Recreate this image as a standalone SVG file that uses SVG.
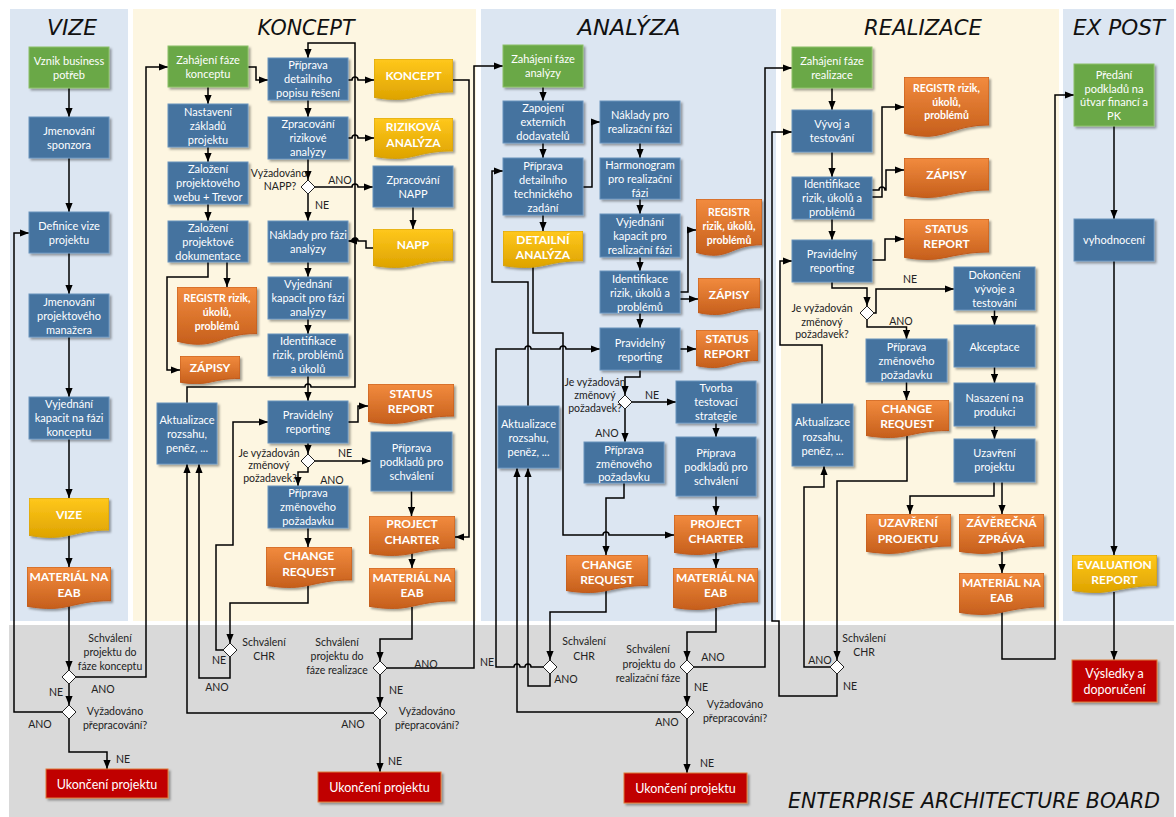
<svg xmlns="http://www.w3.org/2000/svg" width="1176" height="817" viewBox="0 0 1176 817">
<defs>
<style>
.lb{fill:#dce6f2}
.lc{fill:#fdf6e1}
.eab{fill:#d9d9d9}
.bx{fill:#44739f;stroke:#6a93bd;stroke-width:1}
.gr{fill:#6aa846;stroke:#8cc06a;stroke-width:1}
.rd{fill:#c00000;stroke:#dd7a3a;stroke-width:1}
.yd{fill:url(#gY);stroke:#d3a10c}
.od{fill:url(#gO);stroke:#bf5a1c}
.sh{filter:url(#sh)}
.t{font-family:Lato,"Open Sans","Liberation Sans",sans-serif;font-size:11px;fill:#fff;text-anchor:middle}
.tb{font-weight:bold;font-size:12px}
.ts{font-weight:bold;font-size:10.5px}
.tr{font-size:12.5px}
.l{font-family:Lato,"Open Sans","Liberation Sans",sans-serif;font-size:10.5px;fill:#222;text-anchor:middle}
.c path{fill:none;stroke:#000;stroke-width:1.5;marker-end:url(#ah)}
.dm{fill:#fff;stroke:#222;stroke-width:1}
.ttl{font-family:"DejaVu Sans",sans-serif;font-style:italic;font-size:22px;fill:#111;text-anchor:middle}
.ttl2{font-size:18.5px}
</style>
<linearGradient id="gY" x1="0" y1="0" x2="0" y2="1"><stop offset="0" stop-color="#ffc81c"/><stop offset="1" stop-color="#dea300"/></linearGradient>
<linearGradient id="gO" x1="0" y1="0" x2="0" y2="1"><stop offset="0" stop-color="#f28b3e"/><stop offset="1" stop-color="#c65f1c"/></linearGradient>
<filter id="sh" x="-10%" y="-10%" width="130%" height="130%"><feDropShadow dx="2" dy="2" stdDeviation="1.2" flood-color="#000" flood-opacity="0.35"/></filter>
<marker id="ah" viewBox="0 0 10 8" refX="10" refY="4" markerWidth="9" markerHeight="7.5" orient="auto" markerUnits="userSpaceOnUse"><path d="M0,0 L10,4 L0,8 Z" fill="#000"/></marker>
<!-- flowchart "document" shape with a wavy lower edge -->
<symbol id="doc" viewBox="0 0 100 100" preserveAspectRatio="none"><path d="M0,0 H100 V80.2 C50,80.2 50,110.75 0,93.4 Z" vector-effect="non-scaling-stroke"/></symbol>
</defs>

<!-- swimlanes -->
<g id="lanes">
<rect x="0" y="0" width="1176" height="817" fill="#fff"/>
<rect class="lb" x="10" y="9" width="118" height="612"/>
<rect class="lc" x="133" y="9" width="343" height="612"/>
<rect class="lb" x="481" y="9" width="295" height="612"/>
<rect class="lc" x="781" y="9" width="278" height="612"/>
<rect class="lb" x="1063" y="9" width="111" height="612"/>
<rect class="eab" x="9" y="625" width="1165" height="192"/>
</g>
<g id="titles">
<text class="ttl" x="72" y="35" textLength="50" lengthAdjust="spacingAndGlyphs">VIZE</text>
<text class="ttl" x="306" y="35" textLength="97" lengthAdjust="spacingAndGlyphs">KONCEPT</text>
<text class="ttl" x="629" y="35" textLength="103" lengthAdjust="spacingAndGlyphs">ANALÝZA</text>
<text class="ttl" x="923" y="35" textLength="118" lengthAdjust="spacingAndGlyphs">REALIZACE</text>
<text class="ttl" x="1119" y="35" textLength="92" lengthAdjust="spacingAndGlyphs">EX POST</text>
<text class="ttl ttl2" transform="translate(974,808) scale(1,1.15)" x="0" y="0" textLength="372" lengthAdjust="spacingAndGlyphs">ENTERPRISE ARCHITECTURE BOARD</text>
</g>

<!-- connectors -->
<g id="connectors" class="c">
<!-- vize -->
<path d="M69,88 V117"/>
<path d="M69,158 V212"/>
<path d="M69,253 V294"/>
<path d="M69,337 V397"/>
<path d="M69,439 V498"/>
<path d="M69,535 V567"/>
<path d="M69,606 V670"/>
<path d="M76,677 H146 V67 H168"/>
<path d="M69,684 V705"/>
<path d="M62,712 H14 V233 H29"/>
<path d="M69,719 V752 H107 V769"/>
<!-- koncept -->
<path d="M248,67 H256 V80 H268"/>
<path d="M208,87 V104"/>
<path d="M208,147 V162"/>
<path d="M208,204 V221"/>
<path d="M308,100 V117"/>
<path d="M348,80 H352 a3,3 0 0 1 6,0 H374"/>
<path d="M348,138 H352 a3,3 0 0 1 6,0 H374"/>
<path d="M308,159 V180"/>
<path d="M315,187 H352 a3,3 0 0 1 6,0 H373"/>
<path d="M308,194 V221"/>
<path d="M413,207 V229"/>
<path d="M373,248 H366 V241 H358 a3,3 0 0 0 -6,0 H348"/>
<path d="M308,262 V277"/>
<path d="M308,319 V334"/>
<path d="M208,262 V277 H167 V370 H180"/>
<path d="M227,262 V287"/>
<path d="M187,403 V387 H305 a3,3 0 0 1 6,0 H355 V43 H308 V58"/>
<path d="M308,376 V401"/>
<path d="M348,422 H358 V406 H368"/>
<path d="M308,443 V454"/>
<path d="M315,461 H371"/>
<path d="M308,468 V472 H298 V486"/>
<path d="M308,528 V547"/>
<path d="M411.5,491 V516"/>
<path d="M412,552 V568"/>
<path d="M453,80 H469 V537 H455"/>
<path d="M308,585 V603 H230 V643"/>
<path d="M230,657 V678 H199 V464"/>
<path d="M223,650 H216 V545 H233 V422 H268"/>
<path d="M373,713 H187 V464"/>
<path d="M412,607 V639 H380 V661"/>
<path d="M387,668 H474 V66 H503"/>
<path d="M380,675 V706"/>
<path d="M380,720 V772"/>
<!-- analyza -->
<path d="M543,87 V101"/>
<path d="M543,143 V158"/>
<path d="M543,215 V231"/>
<path d="M583,187 H592 V122 H600"/>
<path d="M640,143 V158"/>
<path d="M640,199 V214"/>
<path d="M640,257 V271"/>
<path d="M680,292 H688 V230 H696"/>
<path d="M680,299 H698"/>
<path d="M640,313 V328"/>
<path d="M680,349 H696"/>
<path d="M640,370 V377 H625 V395"/>
<path d="M632,402 H676"/>
<path d="M625,409 V442"/>
<path d="M716,423 V437"/>
<path d="M716,496 V515"/>
<path d="M716,552 V568"/>
<path d="M624,483 V498 H606 V555"/>
<path d="M533,266 V333 H563 V535 H603 a3,3 0 0 1 6,0 H674"/>
<path d="M528,406 V282 H492 V171 H503"/>
<path d="M543,667 H531 a3,3 0 0 0 -6,0 H520 a3,3 0 0 0 -6,0 H496 V349 H525 a3,3 0 0 1 6,0 H560 a3,3 0 0 1 6,0 H600"/>
<path d="M550,674 V686 H528 V468"/>
<path d="M680,712 H517 V468"/>
<path d="M606,590 V612 H550 V660"/>
<path d="M716,608 V632 H687 V660"/>
<path d="M694,667 H765 V68 H792"/>
<path d="M687,674 V705"/>
<path d="M687,719 V773"/>
<!-- realizace -->
<path d="M832,88 V110"/>
<path d="M832,152 V177"/>
<path d="M832,219 V240"/>
<path d="M872,197 H882 V107 H904"/>
<path d="M872,190 H879 a3,3 0 0 1 6,0 H886 V170 H904"/>
<path d="M872,260 H885 V239 H904"/>
<path d="M832,282 V288 H867 V306"/>
<path d="M874,313 H876 V289 H954"/>
<path d="M867,320 V327 H906.5 V339"/>
<path d="M994.5,310 V325"/>
<path d="M994.5,367 V383"/>
<path d="M994.5,426 V439"/>
<path d="M994,482 V496 H910 V514"/>
<path d="M1002,482 V514"/>
<path d="M1002,552 V573"/>
<path d="M906.5,382 V400"/>
<path d="M907,436 V481 H837 V660"/>
<path d="M830,667 H804 V487 H824 V466"/>
<path d="M837,674 V696 H779 V621 H772 V132 H792"/>
<path d="M822,404 V345 H780 V261 H792"/>
<path d="M1002,612 V659 H1055 V95 H1074"/>
<!-- ex post -->
<path d="M1114,126 V219"/>
<path d="M1114,261 V555"/>
<path d="M1114,592 V660"/>
</g>

<!-- VIZE -->
<g id="v-vznik"><rect class="gr sh" x="29" y="47" width="80" height="41"/><text class="t"><tspan x="69" y="64.5">Vznik business</tspan><tspan x="69" y="78.5">potřeb</tspan></text></g>
<g id="v-sponzor"><rect class="bx sh" x="29" y="117" width="80" height="41"/><text class="t"><tspan x="69" y="134.5">Jmenování</tspan><tspan x="69" y="148.5">sponzora</tspan></text></g>
<g id="v-definice"><rect class="bx sh" x="29" y="212" width="80" height="41"/><text class="t"><tspan x="69" y="229.5">Definice vize</tspan><tspan x="69" y="243.5">projektu</tspan></text></g>
<g id="v-manazer"><rect class="bx sh" x="29" y="294" width="80" height="43"/><text class="t"><tspan x="69" y="305.5">Jmenování</tspan><tspan x="69" y="319.5">projektového</tspan><tspan x="69" y="333.5">manažera</tspan></text></g>
<g id="v-kapacity"><rect class="bx sh" x="29" y="397" width="80" height="42"/><text class="t"><tspan x="69" y="408">Vyjednání</tspan><tspan x="69" y="422">kapacit na fázi</tspan><tspan x="69" y="436">konceptu</tspan></text></g>
<g id="v-doc-vize"><use href="#doc" class="yd sh" x="29" y="498" width="80" height="40"/><text class="t tb"><tspan x="69" y="518.5">VIZE</tspan></text></g>
<g id="v-material"><use href="#doc" class="od sh" x="27" y="567" width="84" height="42"/><text class="t tb"><tspan x="69" y="580.5">MATERIÁL NA</tspan><tspan x="69" y="596.5">EAB</tspan></text></g>
<g id="v-schvaleni"><polygon class="dm" points="69,670 76,677 69,684 62,677"/><text class="l"><tspan x="110" y="641.5">Schválení</tspan><tspan x="110" y="655.5">projektu do</tspan><tspan x="110" y="669.5">fáze konceptu</tspan></text></g>
<g id="v-prepracovani"><polygon class="dm" points="69,705 76,712 69,719 62,712"/><text class="l"><tspan x="115" y="715">Vyžadováno</tspan><tspan x="115" y="729">přepracování?</tspan></text></g>
<g id="v-ukonceni"><rect class="rd sh" x="46" y="769" width="122" height="29"/><text class="t tr"><tspan x="107" y="788.5">Ukončení projektu</tspan></text></g>

<!-- KONCEPT -->
<g id="k-zahajeni"><rect class="gr sh" x="168" y="46" width="80" height="41"/><text class="t"><tspan x="208" y="63.5">Zahájení fáze</tspan><tspan x="208" y="77.5">konceptu</tspan></text></g>
<g id="k-nastaveni"><rect class="bx sh" x="168" y="104" width="80" height="43"/><text class="t"><tspan x="208" y="115.5">Nastavení</tspan><tspan x="208" y="129.5">základů</tspan><tspan x="208" y="143.5">projektu</tspan></text></g>
<g id="k-web"><rect class="bx sh" x="168" y="162" width="80" height="42"/><text class="t"><tspan x="208" y="173">Založení</tspan><tspan x="208" y="187">projektového</tspan><tspan x="208" y="201">webu + Trevor</tspan></text></g>
<g id="k-dokumentace"><rect class="bx sh" x="168" y="221" width="80" height="41"/><text class="t"><tspan x="208" y="231.5">Založení</tspan><tspan x="208" y="245.5">projektové</tspan><tspan x="208" y="259.5">dokumentace</tspan></text></g>
<g id="k-priprava"><rect class="bx sh" x="268" y="58" width="80" height="42"/><text class="t"><tspan x="308" y="69">Příprava</tspan><tspan x="308" y="83">detailního</tspan><tspan x="308" y="97">popisu řešení</tspan></text></g>
<g id="k-rizikova"><rect class="bx sh" x="268" y="117" width="80" height="42"/><text class="t"><tspan x="308" y="128">Zpracování</tspan><tspan x="308" y="142">rizikové</tspan><tspan x="308" y="156">analýzy</tspan></text></g>
<g id="k-napp-q"><polygon class="dm" points="308,180 315,187 308,194 301,187"/><text class="l"><tspan x="279" y="177">Vyžadováno</tspan><tspan x="280" y="190">NAPP?</tspan></text></g>
<g id="k-napp"><rect class="bx sh" x="373" y="166" width="80" height="41"/><text class="t"><tspan x="413" y="183.5">Zpracování</tspan><tspan x="413" y="197.5">NAPP</tspan></text></g>
<g id="k-naklady"><rect class="bx sh" x="268" y="221" width="80" height="41"/><text class="t"><tspan x="308" y="238.5">Náklady pro fázi</tspan><tspan x="308" y="252.5">analýzy</tspan></text></g>
<g id="k-vyjednani"><rect class="bx sh" x="268" y="277" width="80" height="42"/><text class="t"><tspan x="308" y="288">Vyjednání</tspan><tspan x="308" y="302">kapacit pro fázi</tspan><tspan x="308" y="316">analýzy</tspan></text></g>
<g id="k-identifikace"><rect class="bx sh" x="268" y="334" width="80" height="42"/><text class="t"><tspan x="308" y="345">Identifikace</tspan><tspan x="308" y="359">rizik, problémů</tspan><tspan x="308" y="373">a úkolů</tspan></text></g>
<g id="k-aktualizace"><rect class="bx sh" x="157" y="403" width="60" height="61"/><text class="t"><tspan x="187" y="423.5">Aktualizace</tspan><tspan x="187" y="437.5">rozsahu,</tspan><tspan x="187" y="451.5">peněz, ...</tspan></text></g>
<g id="k-reporting"><rect class="bx sh" x="268" y="401" width="80" height="42"/><text class="t"><tspan x="308" y="419">Pravidelný</tspan><tspan x="308" y="433">reporting</tspan></text></g>
<g id="k-zmena-q"><polygon class="dm" points="308,454 315,461 308,468 301,461"/><text class="l"><tspan x="269" y="456.5">Je vyžadován</tspan><tspan x="269" y="469">změnový</tspan><tspan x="270" y="481.5">požadavek?</tspan></text></g>
<g id="k-podklady"><rect class="bx sh" x="371" y="432" width="81" height="59"/><text class="t"><tspan x="411.5" y="451.5">Příprava</tspan><tspan x="411.5" y="465.5">podkladů pro</tspan><tspan x="411.5" y="479.5">schválení</tspan></text></g>
<g id="k-zmenovy"><rect class="bx sh" x="268" y="486" width="80" height="42"/><text class="t"><tspan x="308" y="497">Příprava</tspan><tspan x="308" y="511">změnového</tspan><tspan x="308" y="525">požadavku</tspan></text></g>
<g id="k-doc-koncept"><use href="#doc" class="yd sh" x="374" y="59" width="79" height="41"/><text class="t tb"><tspan x="413.5" y="79.5">KONCEPT</tspan></text></g>
<g id="k-doc-rizikova"><use href="#doc" class="yd sh" x="374" y="118" width="79" height="41"/><text class="t tb"><tspan x="413.5" y="130.5">RIZIKOVÁ</tspan><tspan x="413.5" y="146.5">ANALÝZA</tspan></text></g>
<g id="k-doc-napp"><use href="#doc" class="yd sh" x="373" y="229" width="80" height="39"/><text class="t tb"><tspan x="413" y="248.5">NAPP</tspan></text></g>
<g id="k-doc-registr"><use href="#doc" class="od sh" x="177" y="287" width="80" height="58"/><text class="t ts"><tspan x="217" y="302">REGISTR rizik,</tspan><tspan x="217" y="316">úkolů,</tspan><tspan x="217" y="330">problémů</tspan></text></g>
<g id="k-doc-zapisy"><use href="#doc" class="od sh" x="180" y="356" width="60" height="28"/><text class="t tb"><tspan x="210" y="371.5">ZÁPISY</tspan></text></g>
<g id="k-doc-status"><use href="#doc" class="od sh" x="368" y="384" width="86" height="40"/><text class="t tb"><tspan x="411" y="397.5">STATUS</tspan><tspan x="411" y="412.5">REPORT</tspan></text></g>
<g id="k-doc-charter"><use href="#doc" class="od sh" x="369" y="516" width="86" height="40"/><text class="t tb"><tspan x="412" y="527.5">PROJECT</tspan><tspan x="412" y="543.5">CHARTER</tspan></text></g>
<g id="k-doc-material"><use href="#doc" class="od sh" x="369" y="568" width="86" height="41"/><text class="t tb"><tspan x="412" y="581.5">MATERIÁL NA</tspan><tspan x="412" y="596.5">EAB</tspan></text></g>
<g id="k-doc-change"><use href="#doc" class="od sh" x="266" y="547" width="86" height="41"/><text class="t tb"><tspan x="309" y="559.5">CHANGE</tspan><tspan x="309" y="576">REQUEST</tspan></text></g>
<g id="k-chr-q"><polygon class="dm" points="230,643 237,650 230,657 223,650"/><text class="l"><tspan x="264" y="645.5">Schválení</tspan><tspan x="264" y="659.5">CHR</tspan></text></g>
<g id="k-schvaleni"><polygon class="dm" points="380,661 387,668 380,675 373,668"/><text class="l"><tspan x="337" y="645.5">Schválení</tspan><tspan x="337" y="660">projektu do</tspan><tspan x="337" y="673.5">fáze realizace</tspan></text></g>
<g id="k-prepracovani"><polygon class="dm" points="380,706 387,713 380,720 373,713"/><text class="l"><tspan x="427" y="715">Vyžadováno</tspan><tspan x="427" y="729">přepracování?</tspan></text></g>
<g id="k-ukonceni"><rect class="rd sh" x="318" y="772" width="123" height="30"/><text class="t tr"><tspan x="379.5" y="792">Ukončení projektu</tspan></text></g>

<!-- ANALÝZA -->
<g id="a-zahajeni"><rect class="gr sh" x="503" y="45" width="80" height="42"/><text class="t"><tspan x="543" y="63">Zahájení fáze</tspan><tspan x="543" y="77">analýzy</tspan></text></g>
<g id="a-zapojeni"><rect class="bx sh" x="503" y="101" width="80" height="42"/><text class="t"><tspan x="543" y="112">Zapojení</tspan><tspan x="543" y="126">externích</tspan><tspan x="543" y="140">dodavatelů</tspan></text></g>
<g id="a-priprava"><rect class="bx sh" x="503" y="158" width="80" height="57"/><text class="t"><tspan x="543" y="170">Příprava</tspan><tspan x="543" y="184">detailního</tspan><tspan x="543" y="198">technického</tspan><tspan x="543" y="212">zadání</tspan></text></g>
<g id="a-doc-detailni"><use href="#doc" class="yd sh" x="503" y="231" width="80" height="37"/><text class="t tb"><tspan x="543" y="243.5">DETAILNÍ</tspan><tspan x="543" y="258.5">ANALÝZA</tspan></text></g>
<g id="a-naklady"><rect class="bx sh" x="600" y="101" width="80" height="42"/><text class="t"><tspan x="640" y="119">Náklady pro</tspan><tspan x="640" y="133">realizační fázi</tspan></text></g>
<g id="a-harmonogram"><rect class="bx sh" x="600" y="158" width="80" height="41"/><text class="t"><tspan x="640" y="169">Harmonogram</tspan><tspan x="640" y="183">pro realizační</tspan><tspan x="640" y="197">fázi</tspan></text></g>
<g id="a-vyjednani"><rect class="bx sh" x="600" y="214" width="80" height="43"/><text class="t"><tspan x="640" y="226">Vyjednání</tspan><tspan x="640" y="240">kapacit pro</tspan><tspan x="640" y="253.5">realizační fázi</tspan></text></g>
<g id="a-doc-registr"><use href="#doc" class="od sh" x="696" y="199" width="66" height="57"/><text class="t ts"><tspan x="729" y="215.5">REGISTR</tspan><tspan x="729" y="230">rizik, úkolů,</tspan><tspan x="729" y="243.5">problémů</tspan></text></g>
<g id="a-identifikace"><rect class="bx sh" x="600" y="271" width="80" height="42"/><text class="t"><tspan x="640" y="283">Identifikace</tspan><tspan x="640" y="297">rizik, úkolů a</tspan><tspan x="640" y="311">problémů</tspan></text></g>
<g id="a-doc-zapisy"><use href="#doc" class="od sh" x="698" y="278" width="62" height="37"/><text class="t tb"><tspan x="729" y="298.5">ZÁPISY</tspan></text></g>
<g id="a-reporting"><rect class="bx sh" x="600" y="328" width="80" height="42"/><text class="t"><tspan x="640" y="347">Pravidelný</tspan><tspan x="640" y="361">reporting</tspan></text></g>
<g id="a-doc-status"><use href="#doc" class="od sh" x="696" y="330" width="62" height="38"/><text class="t tb"><tspan x="727" y="342.5">STATUS</tspan><tspan x="727" y="357.5">REPORT</tspan></text></g>
<g id="a-zmena-q"><polygon class="dm" points="625,395 632,402 625,409 618,402"/><text class="l"><tspan x="595" y="385.5">Je vyžadován</tspan><tspan x="595" y="399">změnový</tspan><tspan x="595" y="411.5">požadavek?</tspan></text></g>
<g id="a-tvorba"><rect class="bx sh" x="676" y="381" width="80" height="42"/><text class="t"><tspan x="716" y="392">Tvorba</tspan><tspan x="716" y="406">testovací</tspan><tspan x="716" y="420">strategie</tspan></text></g>
<g id="a-podklady"><rect class="bx sh" x="676" y="437" width="80" height="59"/><text class="t"><tspan x="716" y="457">Příprava</tspan><tspan x="716" y="471">podkladů pro</tspan><tspan x="716" y="484.5">schválení</tspan></text></g>
<g id="a-zmenovy"><rect class="bx sh" x="584" y="442" width="80" height="41"/><text class="t"><tspan x="624" y="454">Příprava</tspan><tspan x="624" y="467.5">změnového</tspan><tspan x="624" y="481">požadavku</tspan></text></g>
<g id="a-aktualizace"><rect class="bx sh" x="498" y="406" width="61" height="62"/><text class="t"><tspan x="528.5" y="428">Aktualizace</tspan><tspan x="528.5" y="442">rozsahu,</tspan><tspan x="528.5" y="456">peněz, ...</tspan></text></g>
<g id="a-doc-charter"><use href="#doc" class="od sh" x="674" y="515" width="84" height="40"/><text class="t tb"><tspan x="716" y="527.5">PROJECT</tspan><tspan x="716" y="542.5">CHARTER</tspan></text></g>
<g id="a-doc-change"><use href="#doc" class="od sh" x="566" y="555" width="82" height="38"/><text class="t tb"><tspan x="607" y="568.5">CHANGE</tspan><tspan x="607" y="583.5">REQUEST</tspan></text></g>
<g id="a-doc-material"><use href="#doc" class="od sh" x="673" y="568" width="85" height="42"/><text class="t tb"><tspan x="715.5" y="581.5">MATERIÁL NA</tspan><tspan x="715.5" y="596.5">EAB</tspan></text></g>
<g id="a-chr-q"><polygon class="dm" points="550,660 557,667 550,674 543,667"/><text class="l"><tspan x="584" y="644.5">Schválení</tspan><tspan x="584" y="659.5">CHR</tspan></text></g>
<g id="a-schvaleni"><polygon class="dm" points="687,660 694,667 687,674 680,667"/><text class="l"><tspan x="648" y="652.5">Schválení</tspan><tspan x="649" y="667.5">projektu do</tspan><tspan x="648" y="681.5">realizační fáze</tspan></text></g>
<g id="a-prepracovani"><polygon class="dm" points="687,705 694,712 687,719 680,712"/><text class="l"><tspan x="735" y="707.5">Vyžadováno</tspan><tspan x="735" y="721.5">přepracování?</tspan></text></g>
<g id="a-ukonceni"><rect class="rd sh" x="624" y="773" width="123" height="30"/><text class="t tr"><tspan x="685.5" y="793">Ukončení projektu</tspan></text></g>

<!-- REALIZACE -->
<g id="r-zahajeni"><rect class="gr sh" x="792" y="47" width="80" height="41"/><text class="t"><tspan x="832" y="64.5">Zahájení fáze</tspan><tspan x="832" y="78.5">realizace</tspan></text></g>
<g id="r-vyvoj"><rect class="bx sh" x="792" y="110" width="80" height="42"/><text class="t"><tspan x="832" y="128">Vývoj a</tspan><tspan x="832" y="142">testování</tspan></text></g>
<g id="r-identifikace"><rect class="bx sh" x="792" y="177" width="80" height="42"/><text class="t"><tspan x="832" y="188">Identifikace</tspan><tspan x="832" y="202">rizik, úkolů a</tspan><tspan x="832" y="216">problémů</tspan></text></g>
<g id="r-reporting"><rect class="bx sh" x="792" y="240" width="80" height="42"/><text class="t"><tspan x="832" y="258">Pravidelný</tspan><tspan x="832" y="272">reporting</tspan></text></g>
<g id="r-doc-registr"><use href="#doc" class="od sh" x="904" y="77" width="85" height="60"/><text class="t ts"><tspan x="946.5" y="91.5">REGISTR rizik,</tspan><tspan x="946.5" y="105.5">úkolů,</tspan><tspan x="946.5" y="118.5">problémů</tspan></text></g>
<g id="r-doc-zapisy"><use href="#doc" class="od sh" x="904" y="158" width="85" height="40"/><text class="t tb"><tspan x="946.5" y="178.5">ZÁPISY</tspan></text></g>
<g id="r-doc-status"><use href="#doc" class="od sh" x="904" y="219" width="85" height="41"/><text class="t tb"><tspan x="946.5" y="232.5">STATUS</tspan><tspan x="946.5" y="247.5">REPORT</tspan></text></g>
<g id="r-zmena-q"><polygon class="dm" points="867,306 874,313 867,320 860,313"/><text class="l"><tspan x="822" y="311.5">Je vyžadován</tspan><tspan x="822" y="325.5">změnový</tspan><tspan x="822" y="337.5">požadavek?</tspan></text></g>
<g id="r-dokonceni"><rect class="bx sh" x="954" y="267" width="81" height="43"/><text class="t"><tspan x="994.5" y="279">Dokončení</tspan><tspan x="994.5" y="293">vývoje a</tspan><tspan x="994.5" y="307">testování</tspan></text></g>
<g id="r-akceptace"><rect class="bx sh" x="954" y="325" width="81" height="42"/><text class="t"><tspan x="994.5" y="350.5">Akceptace</tspan></text></g>
<g id="r-nasazeni"><rect class="bx sh" x="954" y="383" width="81" height="43"/><text class="t"><tspan x="994.5" y="402">Nasazení na</tspan><tspan x="994.5" y="416">produkci</tspan></text></g>
<g id="r-uzavreni"><rect class="bx sh" x="954" y="439" width="81" height="43"/><text class="t"><tspan x="994.5" y="457">Uzavření</tspan><tspan x="994.5" y="471">projektu</tspan></text></g>
<g id="r-zmenovy"><rect class="bx sh" x="866" y="339" width="81" height="43"/><text class="t"><tspan x="906.5" y="351">Příprava</tspan><tspan x="906.5" y="365">změnového</tspan><tspan x="906.5" y="379">požadavku</tspan></text></g>
<g id="r-doc-change"><use href="#doc" class="od sh" x="866" y="400" width="83" height="38"/><text class="t tb"><tspan x="907" y="412.5">CHANGE</tspan><tspan x="907" y="427.5">REQUEST</tspan></text></g>
<g id="r-aktualizace"><rect class="bx sh" x="792" y="404" width="61" height="62"/><text class="t"><tspan x="822.5" y="426">Aktualizace</tspan><tspan x="822.5" y="441">rozsahu,</tspan><tspan x="822.5" y="455">peněz, ...</tspan></text></g>
<g id="r-doc-uzavreni"><use href="#doc" class="od sh" x="866" y="514" width="85" height="40"/><text class="t tb"><tspan x="908" y="526.5">UZAVŘENÍ</tspan><tspan x="908" y="542.5">PROJEKTU</tspan></text></g>
<g id="r-doc-zaverecna"><use href="#doc" class="od sh" x="959" y="514" width="85" height="40"/><text class="t tb"><tspan x="1001.5" y="526.5">ZÁVĚREČNÁ</tspan><tspan x="1001.5" y="542.5">ZPRÁVA</tspan></text></g>
<g id="r-doc-material"><use href="#doc" class="od sh" x="959" y="573" width="85" height="42"/><text class="t tb"><tspan x="1001.5" y="586.5">MATERIÁL NA</tspan><tspan x="1001.5" y="602">EAB</tspan></text></g>
<g id="r-chr-q"><polygon class="dm" points="837,660 844,667 837,674 830,667"/><text class="l"><tspan x="864" y="641.5">Schválení</tspan><tspan x="864" y="655.5">CHR</tspan></text></g>

<!-- EX POST -->
<g id="e-predani"><rect class="gr sh" x="1074" y="64" width="80" height="62"/><text class="t"><tspan x="1114" y="79">Předání</tspan><tspan x="1114" y="92.5">podkladů na</tspan><tspan x="1114" y="106">útvar financí a</tspan><tspan x="1114" y="119.5">PK</tspan></text></g>
<g id="e-vyhodnoceni"><rect class="bx sh" x="1074" y="219" width="80" height="42"/><text class="t"><tspan x="1114" y="244">vyhodnocení</tspan></text></g>
<g id="e-doc-evaluation"><use href="#doc" class="yd sh" x="1072" y="555" width="85" height="38"/><text class="t tb"><tspan x="1114.5" y="568.5">EVALUATION</tspan><tspan x="1114.5" y="583.5">REPORT</tspan></text></g>
<g id="e-vysledky"><rect class="rd sh" x="1072" y="660" width="85" height="42"/><text class="t tr"><tspan x="1114.5" y="678">Výsledky a</tspan><tspan x="1114.5" y="694">doporučení</tspan></text></g>

<!-- branch labels -->
<g id="branch-labels" class="l">
<text x="103" y="693">ANO</text><text x="56" y="696">NE</text><text x="40" y="728">ANO</text><text x="123" y="763">NE</text>
<text x="340" y="184">ANO</text><text x="322" y="209">NE</text>
<text x="345" y="457">NE</text><text x="332" y="484">ANO</text>
<text x="219" y="664">NE</text><text x="217" y="691">ANO</text>
<text x="426" y="668">ANO</text><text x="396" y="694">NE</text><text x="353" y="728">ANO</text><text x="395" y="765">NE</text>
<text x="652" y="399">NE</text><text x="607" y="437">ANO</text>
<text x="487" y="666">NE</text><text x="566" y="683">ANO</text>
<text x="713" y="661">ANO</text><text x="701" y="691">NE</text><text x="667" y="726">ANO</text><text x="707" y="767">NE</text>
<text x="910" y="283">NE</text><text x="901" y="325">ANO</text>
<text x="820" y="664">ANO</text><text x="850" y="690">NE</text>
</g>
</svg>
